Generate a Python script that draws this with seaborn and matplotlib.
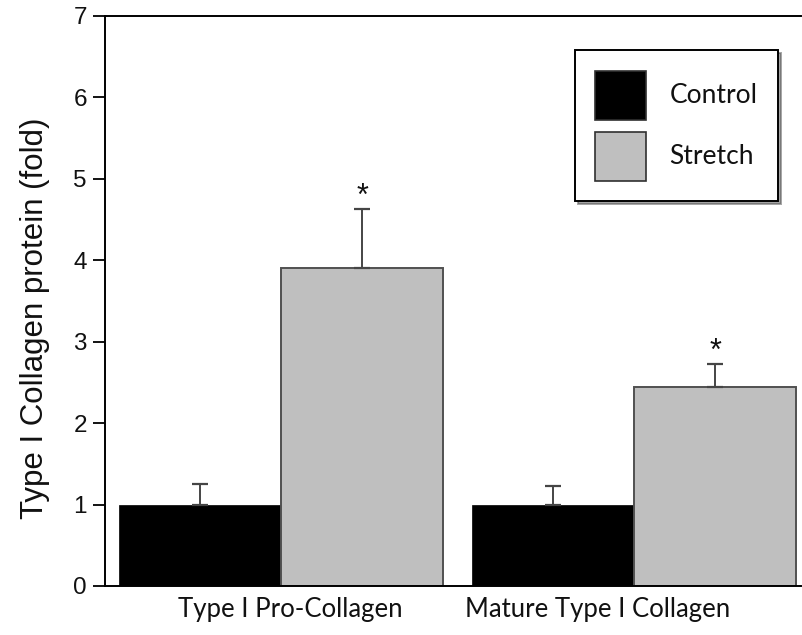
import matplotlib
matplotlib.use("Agg")
import matplotlib.pyplot as plt
import matplotlib.patches as mpatches
import matplotlib.transforms as mtransforms
import seaborn as sns
import pandas as pd
import numpy as np

categories = ["Type I Pro-Collagen", "Mature Type I Collagen"]
groups = ["Control", "Stretch"]
control = [1.0, 1.0]
control_err = [0.25, 0.23]
stretch = [3.91, 2.44]
stretch_err = [0.72, 0.29]
significant = [True, True]
yticks = [0, 1, 2, 3, 4, 5, 6, 7]

sns.set_style("white")
plt.rcParams["font.family"] = ["Liberation Sans", "DejaVu Sans"]

df = pd.DataFrame({
    "category": categories * 2,
    "group": [groups[0]] * 2 + [groups[1]] * 2,
    "value": control + stretch,
    "err": control_err + stretch_err,
})

W, H = 802, 635
fig = plt.figure(figsize=(W / 100, H / 100), dpi=100)
ax = fig.add_axes([105 / W, 1 - 586 / H, (801 - 105) / W, (586 - 16) / H])

palette = {"Control": "#000000", "Stretch": "#bfbfbf"}
sns.barplot(data=df, x="category", y="value", hue="group", order=categories,
            hue_order=groups, palette=palette, width=0.92, errorbar=None,
            saturation=1, ax=ax, legend=False)

# edges and error bars
for container, g in zip(ax.containers, groups):
    sub = df[df["group"] == g].set_index("category").loc[categories]
    for bar, (_, row) in zip(container.patches, sub.iterrows()):
        if g == "Stretch":
            bar.set_edgecolor("#505050")
            bar.set_linewidth(1.4)
        else:
            bar.set_edgecolor("#000000")
            bar.set_linewidth(0.5)
        cx = bar.get_x() + bar.get_width() / 2
        top = bar.get_height()
        ax.errorbar(cx, top, yerr=[[0], [row["err"]]], fmt="none",
                    ecolor="#454545", elinewidth=1.4, capsize=6, capthick=1.6,
                    zorder=1)
        if g == "Stretch" and significant[categories.index(row.name)]:
            ax.text(cx, top + row["err"] + 0.15, "*", ha="center", va="center",
                    fontsize=22, family=["Liberation Sans"], color="#111111")

ax.set_ylim(0, 7)
ax.set_yticks(yticks)
ax.set_yticklabels([str(t) for t in yticks])
ax.set_xlim(-(281 - 105) / 353, (801 - 281) / 353)

for s in ["left", "bottom", "top"]:
    ax.spines[s].set_visible(True)
    ax.spines[s].set_color("#000000")
    ax.spines[s].set_linewidth(1.4)
ax.spines["right"].set_visible(False)

ax.tick_params(axis="y", which="both", left=True, length=9, width=1.3,
               color="#000000", pad=4, labelsize=17.5, labelcolor="#111111")
ax.tick_params(axis="x", length=0, pad=8, labelsize=18.5, labelcolor="#111111")
for lbl in ax.get_xticklabels():
    lbl.set_family(["Lato", "DejaVu Sans"])
offsets = [9, -36]
for lbl, dx in zip(ax.get_xticklabels(), offsets):
    lbl.set_transform(lbl.get_transform() +
                      mtransforms.ScaledTranslation(dx / 100, 0, fig.dpi_scale_trans))

ax.set_xlabel("")
ax.set_ylabel("Type I Collagen protein (fold)", fontsize=22.5, color="#111111")
ax.yaxis.set_label_coords(-0.079, (586 - 318) / 570)

handles = [mpatches.Patch(facecolor=palette[g], edgecolor="#303030", linewidth=1.2, label=g)
           for g in groups]
fs_pt = 19
fs_px = fs_pt * 100 / 72
# matplotlib legend handle height = fs*(0.65*hh + 0.245)
hh = (49 / fs_px - 0.245) / 0.65
leg = ax.legend(handles=handles, loc="upper right",
                bbox_to_anchor=(778 / W, 1 - 50 / H), bbox_transform=fig.transFigure,
                borderaxespad=0, frameon=True, shadow=True, fancybox=False,
                handlelength=51 / fs_px, handleheight=hh,
                labelspacing=12 / fs_px, handletextpad=23 / fs_px, borderpad=0.78,
                prop={"family": ["Lato", "DejaVu Sans"], "size": fs_pt})
leg.get_frame().set_edgecolor("#000000")
leg.get_frame().set_linewidth(1.4)
for t in leg.get_texts():
    t.set_color("#111111")

fig.savefig("out.png", dpi=100)
